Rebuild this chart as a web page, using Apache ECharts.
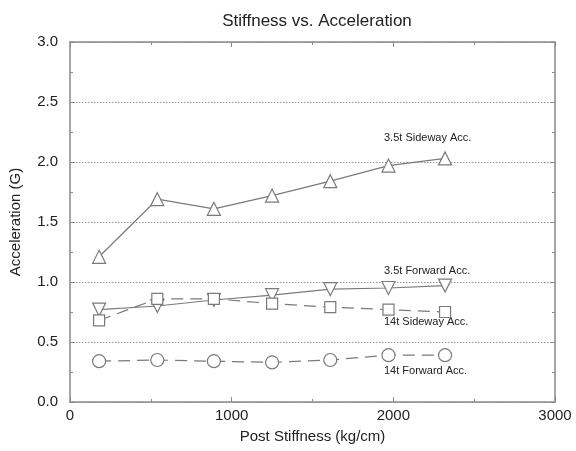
<!DOCTYPE html>
<html>
<head>
<meta charset="utf-8">
<script src="https://cdn.jsdelivr.net/npm/echarts@6/dist/echarts.min.js"></script>
<style>
  html, body { margin: 0; padding: 0; background: #fff; }
  #main { width: 576px; height: 451px; }
</style>
</head>
<body>
<div id="main"></div>
<script>
// post stiffness (kg/cm)
const stiffness = [180, 540, 890, 1250, 1610, 1970, 2320];
// acceleration (G)
const side35 = [1.21, 1.69, 1.61, 1.72, 1.84, 1.97, 2.03];
const fwd35 = [0.77, 0.80, 0.85, 0.89, 0.94, 0.95, 0.97];
const side14 = [0.68, 0.86, 0.86, 0.82, 0.79, 0.77, 0.75];
const fwd14 = [0.34, 0.35, 0.34, 0.33, 0.35, 0.39, 0.39];
const seriesNames = ['3.5t Sideway Acc.', '3.5t Forward Acc.', '14t Sideway Acc.', '14t Forward Acc.'];

const lineCol = '#7a7a7a';
const frameCol = '#8a8a8a';
const font = 'Liberation Sans, Arial, sans-serif';

let pairs = (ys) => stiffness.map((x, i) => [x, ys[i]]);

let chart = echarts.init(document.getElementById('main'));

// 轴的公共样式
let boxAxis = {
    axisLine: { show: true, onZero: false, lineStyle: { color: frameCol, width: 1.5 } },
    axisTick: { show: true, inside: true, length: 5, lineStyle: { color: frameCol } },
    minorTick: { show: true, splitNumber: 2, length: 3, lineStyle: { color: frameCol } }
};

let mkSeries = (name, ys, symbol, dashed, rotate) => ({
    name: name,
    type: 'line',
    data: pairs(ys),
    symbol: symbol,
    symbolSize: symbol === 'rect' ? 11 : 13,
    symbolRotate: rotate || 0,
    showAllSymbol: true,
    lineStyle: { color: lineCol, width: 1.2, type: dashed ? [12, 7] : 'solid' },
    itemStyle: { color: '#fff', borderColor: lineCol, borderWidth: 1.2 },
    z: 3
});

chart.setOption({
    animation: false,
    backgroundColor: '#fff',
    title: {
        text: 'Stiffness vs. Acceleration',
        left: 312, top: 8, textAlign: 'center',
        textStyle: { fontFamily: font, fontSize: 17, fontWeight: 'normal', color: '#222' }
    },
    grid: { left: 70, right: 21, top: 42, bottom: 49 },
    xAxis: [
        Object.assign({
            type: 'value', min: 0, max: 3000, interval: 1000,
            name: 'Post Stiffness (kg/cm)', nameLocation: 'middle', nameGap: 27,
            nameTextStyle: { fontFamily: font, fontSize: 15, color: '#222' },
            axisLabel: { fontFamily: font, fontSize: 15, color: '#222', margin: 6,
                formatter: (v) => String(v) },
            splitLine: { show: false }
        }, boxAxis),
        Object.assign({
            type: 'value', min: 0, max: 3000, interval: 1000, position: 'top',
            axisLabel: { show: false }, splitLine: { show: false }
        }, boxAxis)
    ],
    yAxis: [
        Object.assign({
            type: 'value', min: 0, max: 3, interval: 0.5,
            name: 'Acceleration (G)', nameLocation: 'middle', nameGap: 47,
            nameTextStyle: { fontFamily: font, fontSize: 15, color: '#222' },
            axisLabel: { fontFamily: font, fontSize: 15, color: '#222', margin: 12,
                formatter: (v) => v.toFixed(1) },
            splitLine: { show: true, lineStyle: { color: '#999', type: [1.5, 1.5], width: 1 } }
        }, boxAxis),
        Object.assign({
            type: 'value', min: 0, max: 3, interval: 0.5, position: 'right',
            axisLabel: { show: false }, splitLine: { show: false }
        }, boxAxis)
    ],
    series: [
        mkSeries(seriesNames[0], side35, 'triangle', false),
        mkSeries(seriesNames[1], fwd35, 'triangle', false, 180),
        mkSeries(seriesNames[2], side14, 'rect', true),
        mkSeries(seriesNames[3], fwd14, 'circle', true)
    ],
    graphic: [
        { type: 'text', left: 384, top: 132, style: { text: seriesNames[0], fontFamily: font, fontSize: 11, fill: '#222' } },
        { type: 'text', left: 384, top: 265, style: { text: seriesNames[1], fontFamily: font, fontSize: 11, fill: '#222' } },
        { type: 'text', left: 384, top: 316, style: { text: seriesNames[2], fontFamily: font, fontSize: 11, fill: '#222' } },
        { type: 'text', left: 384, top: 365, style: { text: seriesNames[3], fontFamily: font, fontSize: 11, fill: '#222' } }
    ]
});
</script>
</body>
</html>
